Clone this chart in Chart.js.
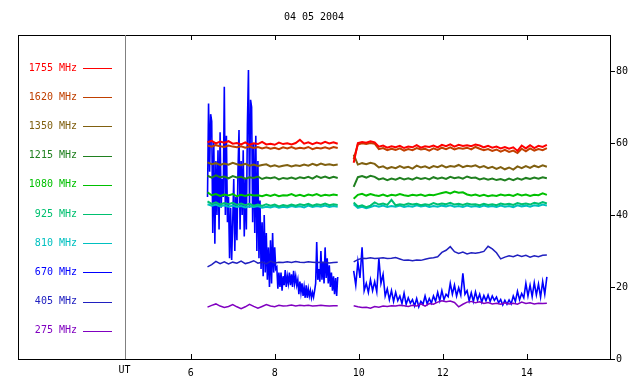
<!DOCTYPE html>
<html>
<head>
<meta charset="utf-8">
<title>04 05 2004</title>
<script src="https://cdn.jsdelivr.net/npm/chart.js@4.4.1/dist/chart.umd.min.js"></script>
<style>
  html, body { margin: 0; padding: 0; background: #fff; }
  canvas { display: block; }
</style>
</head>
<body>
<canvas id="radioChart" width="640" height="384"></canvas>
<script>
const chartTitle = '04 05 2004';
const freqs = ['1755', '1620', '1350', '1215', '1080', '925', '810', '670', '405', '275'];
const lineColors = ['#ff0000', '#c04000', '#806010', '#208020', '#00c000', '#00c070', '#00c0c0', '#0000ff', '#2020c0', '#8000c0'];
const xTicks = [6, 8, 10, 12, 14];
const yTicks = [0, 20, 40, 60, 80];

// UT hours of the samples: first run, then second run after the gap
function hours(start, count, step) {
  const out = [];
  for (let i = 0; i < count; i++) out.push(+(start + i * step).toFixed(3));
  return out;
}
const hoursA = hours(6.40, 32, 0.1);
const hoursB = hours(9.88, 47, 0.1);
const hoursFastA = hours(6.40, 125, 0.025);   // 670 MHz is sampled finer
const hoursFastB = hours(9.88, 93, 0.05);

const mhz1755a = [60.2, 60.6, 59.9, 60.4, 60.1, 60.5, 59.8, 60.0, 59.6, 60.2, 59.5, 59.9, 59.7, 60.3, 59.6, 59.8, 59.5, 60.1, 59.7, 59.9, 59.6, 60.0, 60.9, 59.8, 60.2, 59.7, 60.1, 59.8, 60.3, 59.9, 60.2, 59.8];
const mhz1755b = [54.5, 60.0, 60.3, 60.1, 60.5, 60.2, 59.0, 59.3, 58.7, 59.1, 58.8, 59.2, 58.6, 59.0, 58.8, 59.4, 58.7, 59.1, 58.9, 59.3, 58.8, 59.5, 59.1, 59.6, 59.0, 59.5, 59.2, 59.4, 59.1, 59.6, 59.3, 58.8, 59.2, 58.7, 59.0, 58.5, 58.9, 58.4, 58.8, 57.8, 59.3, 58.5, 59.4, 58.6, 59.2, 58.9, 59.5];

const mhz1620a = [59.3, 59.0, 59.4, 59.1, 58.9, 59.3, 59.0, 58.8, 59.1, 58.7, 59.0, 58.6, 58.9, 58.5, 58.8, 58.4, 58.7, 58.3, 58.8, 58.5, 58.9, 58.4, 58.7, 58.5, 58.9, 58.3, 58.7, 58.5, 58.8, 58.4, 58.9, 58.6];
const mhz1620b = [55.5, 59.6, 59.9, 59.7, 60.0, 59.8, 58.3, 58.6, 58.0, 58.4, 58.1, 58.5, 57.9, 58.3, 58.0, 58.6, 58.2, 58.4, 57.9, 58.5, 58.1, 58.7, 58.3, 58.8, 58.2, 58.6, 58.4, 58.7, 58.2, 58.9, 58.4, 58.0, 58.3, 57.8, 58.2, 57.6, 58.1, 57.5, 57.9, 57.2, 58.4, 57.7, 58.5, 57.9, 58.3, 58.0, 58.6];

const mhz1350a = [54.6, 54.1, 54.4, 53.9, 54.3, 54.0, 54.5, 54.1, 53.8, 54.2, 53.7, 54.0, 53.6, 53.9, 54.1, 53.5, 53.8, 53.4, 53.7, 53.9, 53.5, 53.8, 53.6, 54.0, 53.7, 54.2, 53.8, 54.3, 53.9, 54.1, 53.8, 54.0];
const mhz1350b = [56.8, 54.0, 54.4, 54.1, 54.5, 54.2, 53.2, 53.5, 52.9, 53.3, 53.0, 53.6, 53.1, 53.4, 52.9, 53.7, 53.2, 53.5, 53.0, 53.6, 53.3, 53.8, 53.2, 53.6, 53.4, 53.9, 53.3, 53.7, 53.5, 53.8, 53.2, 53.6, 53.0, 53.4, 52.8, 53.3, 52.7, 53.2, 52.6, 53.5, 53.0, 53.6, 53.1, 53.7, 53.3, 53.8, 53.4];

const mhz1215a = [50.9, 50.4, 51.0, 50.5, 50.7, 50.2, 50.8, 50.4, 50.6, 50.1, 50.5, 50.3, 50.7, 50.0, 50.4, 50.2, 50.5, 49.9, 50.3, 50.1, 50.4, 50.0, 50.5, 50.2, 50.6, 50.1, 50.8, 50.3, 50.7, 50.2, 50.6, 50.3];
const mhz1215b = [47.8, 50.5, 50.8, 50.4, 50.9, 50.6, 49.9, 50.2, 49.7, 50.1, 49.8, 50.3, 49.9, 50.2, 49.8, 50.4, 50.0, 50.3, 49.9, 50.5, 50.1, 50.4, 50.0, 50.6, 50.2, 50.5, 50.1, 50.7, 50.3, 50.4, 49.9, 50.2, 49.8, 50.1, 49.7, 50.0, 49.6, 50.1, 49.7, 50.2, 49.8, 50.3, 50.0, 50.4, 50.1, 50.5, 50.2];

const mhz1080a = [46.3, 45.5, 45.8, 45.3, 45.7, 45.4, 45.8, 45.2, 45.6, 45.3, 45.7, 45.4, 45.5, 45.2, 45.6, 45.3, 45.7, 45.2, 45.5, 45.4, 45.8, 45.3, 45.6, 45.2, 45.7, 45.4, 45.8, 45.3, 45.6, 45.4, 45.7, 45.5];
const mhz1080b = [44.5, 45.6, 45.9, 45.4, 45.8, 45.5, 45.3, 45.7, 45.2, 45.6, 45.4, 45.8, 45.5, 45.3, 45.6, 45.4, 45.7, 45.3, 45.6, 45.5, 45.8, 46.1, 46.4, 46.0, 46.5, 46.2, 46.3, 45.7, 45.4, 45.7, 45.3, 45.6, 45.2, 45.5, 45.3, 45.7, 45.4, 45.6, 45.3, 45.8, 45.4, 45.7, 45.3, 45.6, 45.5, 46.0, 45.6];

const mhz925a = [43.8, 43.1, 43.5, 42.9, 43.3, 43.0, 43.4, 42.8, 43.2, 42.7, 43.1, 42.6, 42.9, 42.5, 43.0, 42.6, 42.9, 42.4, 42.8, 42.5, 42.9, 42.6, 43.0, 42.7, 43.1, 42.6, 43.0, 42.8, 43.2, 42.7, 43.0, 42.8];
const mhz925b = [43.5, 42.4, 42.7, 42.2, 42.6, 43.5, 42.9, 43.2, 42.8, 44.2, 42.7, 43.0, 42.8, 43.2, 42.9, 43.1, 42.7, 43.0, 42.8, 43.3, 42.9, 43.2, 43.0, 43.4, 42.9, 43.1, 42.8, 43.2, 42.9, 43.0, 42.7, 43.1, 42.8, 43.0, 42.7, 43.2, 42.9, 43.1, 42.8, 43.3, 43.0, 43.2, 42.9, 43.4, 43.1, 43.6, 43.2];

const mhz810a = [43.0, 42.6, 42.9, 42.4, 42.7, 42.3, 42.6, 42.2, 42.5, 42.1, 42.4, 42.2, 42.5, 42.0, 42.3, 42.1, 42.4, 42.0, 42.3, 42.1, 42.5, 42.2, 42.4, 42.1, 42.6, 42.2, 42.5, 42.3, 42.6, 42.2, 42.5, 42.3];
const mhz810b = [43.0, 42.0, 42.3, 41.9, 42.2, 42.6, 42.3, 42.6, 42.2, 42.5, 42.3, 42.6, 42.2, 42.5, 42.3, 42.7, 42.4, 42.6, 42.2, 42.5, 42.3, 42.6, 42.4, 42.7, 42.3, 42.5, 42.2, 42.6, 42.3, 42.5, 42.2, 42.6, 42.3, 42.5, 42.2, 42.6, 42.3, 42.5, 42.2, 42.7, 42.4, 42.6, 42.3, 42.7, 42.5, 42.9, 42.6];

const mhz670a = [45, 71, 52, 68, 66, 35, 60, 32, 55, 40, 58, 36, 63, 42, 50, 45, 75.6, 40, 62, 38,
  45, 28, 42, 27.5, 38, 50, 30, 45, 33, 52, 63.6, 36, 55, 40, 58, 34, 50, 36, 65, 80.3,
  42, 72, 70, 38, 60, 35, 62, 30, 55, 28, 44, 25, 38, 23, 40, 24, 35, 22, 31, 20,
  33, 21, 35, 24, 31, 25, 25.5, 19.5, 24, 20, 24, 19, 23, 20.5, 24.7, 20, 23, 21, 24, 20.5,
  23.5, 20, 24.5, 21, 23, 20.5, 22, 18, 21.5, 18.5, 21, 17.5, 20, 17, 20.5, 17, 19.5, 17.5, 19, 17,
  18.5, 17.2, 19, 21, 32.5, 22, 25, 21.5, 30, 22, 27, 21, 31, 22.5, 28, 21, 26, 20, 24, 19,
  23, 18, 22.5, 17.5, 22.8];
const mhz670b = [24.5, 20.5, 27, 22.5, 31, 19, 21, 18.5, 22, 19, 21.5, 18.7, 28, 21, 23.5, 17.5, 19.5, 16.5, 19, 16, 18.5, 16.2, 17.5, 15.4, 18.3, 15.2, 17, 15.5, 16.5, 14.7,
  16.8, 14.5, 16, 15.2, 17.5, 15.3, 16.8, 15.5, 17.5, 16, 18.5, 16.2, 19, 16.5, 18, 17.3, 21, 18, 20.5, 17.5, 19.8, 17.8, 23.8, 18, 19, 16.2, 18.4, 16, 18.6, 16.3,
  18, 15.8, 17.6, 16.2, 17.8, 16, 17.5, 16.3, 17.2, 15.6, 16.5, 15, 16.3, 15.2, 16.4, 15.3, 17.5, 16, 18.8, 16.5, 18.2, 17, 21, 17.5, 20.5, 17.3, 21.2, 17.8, 20.8, 17.2,
  21.5, 18, 22.8];

const mhz405a = [25.6, 26.2, 27.1, 26.5, 27.0, 26.4, 26.9, 26.6, 27.2, 26.5, 26.8, 27.3, 26.6, 26.9, 26.4, 27.2, 26.7, 26.9, 26.8, 27.0, 26.8, 27.1, 26.9, 26.8, 27.0, 26.9, 26.8, 26.9, 26.8, 26.7, 26.8, 26.9];
const mhz405b = [27.0, 27.6, 28.0, 27.9, 28.1, 27.9, 28.0, 28.1, 27.9, 28.0, 28.2, 27.8, 27.4, 27.5, 27.3, 27.5, 27.4, 27.7, 28.0, 28.1, 28.4, 29.6, 30.2, 31.2, 29.8, 29.3, 29.7, 29.2, 29.5, 29.4, 29.6, 29.9, 31.3, 30.6, 29.5, 27.8, 28.3, 28.7, 28.4, 28.9, 28.5, 28.8, 28.3, 28.7, 28.4, 28.8, 28.9];

const mhz275a = [14.4, 14.9, 15.3, 14.7, 14.3, 14.6, 15.1, 14.5, 14.0, 14.5, 15.2, 14.6, 14.1, 14.6, 15.1, 14.7, 14.5, 14.9, 14.7, 14.8, 15.0, 14.7, 14.9, 14.8, 14.9, 14.7, 14.8, 14.9, 14.8, 14.7, 14.8, 14.8];
const mhz275b = [14.8, 14.5, 14.3, 14.4, 14.1, 14.6, 14.4, 14.7, 14.6, 14.8, 14.7, 14.9, 14.8, 14.6, 14.9, 14.7, 15.3, 14.7, 15.4, 15.2, 15.8, 16.2, 15.9, 16.1, 15.7, 14.5, 15.2, 15.8, 16.0, 15.6, 15.9, 15.4, 15.7, 15.3, 15.5, 15.2, 15.6, 15.3, 15.5, 15.2, 15.8, 15.4, 15.6, 15.3, 15.5, 15.4, 15.5];

function joinRuns(ta, va, tb, vb) {
  const pts = ta.map((t, i) => ({ x: t, y: va[i] }));
  pts.push({ x: (ta[ta.length - 1] + tb[0]) / 2, y: null }); // data gap
  tb.forEach((t, i) => pts.push({ x: t, y: vb[i] }));
  return pts;
}

const runs = [
  joinRuns(hoursA, mhz1755a, hoursB, mhz1755b),
  joinRuns(hoursA, mhz1620a, hoursB, mhz1620b),
  joinRuns(hoursA, mhz1350a, hoursB, mhz1350b),
  joinRuns(hoursA, mhz1215a, hoursB, mhz1215b),
  joinRuns(hoursA, mhz1080a, hoursB, mhz1080b),
  joinRuns(hoursA, mhz925a, hoursB, mhz925b),
  joinRuns(hoursA, mhz810a, hoursB, mhz810b),
  joinRuns(hoursFastA, mhz670a, hoursFastB, mhz670b),
  joinRuns(hoursA, mhz405a, hoursB, mhz405b),
  joinRuns(hoursA, mhz275a, hoursB, mhz275b)
];

const FONT = '"DejaVu Sans Mono", monospace';

// box, inner ticks, divider, legend, title
const decor = {
  id: 'decor',
  afterDraw(chart) {
    const { ctx, chartArea: a, scales: { x } } = chart;
    ctx.save();
    ctx.strokeStyle = '#000';
    ctx.lineWidth = 1;
    ctx.strokeRect(a.left + 0.5, a.top + 0.5, a.right - a.left, a.bottom - a.top);
    ctx.beginPath();
    xTicks.forEach(v => {
      const px = Math.round(x.getPixelForValue(v)) + 0.5;
      ctx.moveTo(px, a.top); ctx.lineTo(px, a.top + 5);
      ctx.moveTo(px, a.bottom); ctx.lineTo(px, a.bottom - 5);
    });
    ctx.stroke();

    // divider between legend and plot
    const ut = Math.round(x.getPixelForValue(4.43)) + 0.5;
    ctx.strokeStyle = '#808080';
    ctx.beginPath();
    ctx.moveTo(ut, a.top); ctx.lineTo(ut, a.bottom);
    ctx.stroke();

    ctx.font = '10px ' + FONT;
    ctx.fillStyle = '#000';
    ctx.textAlign = 'center';
    ctx.textBaseline = 'middle';
    ctx.fillText('UT', ut - 1, 370);
    ctx.fillText(chartTitle, (a.left + a.right) / 2, 17);

    // legend
    freqs.forEach((f, i) => {
      const yy = 68 + i * 29.2;
      ctx.fillStyle = lineColors[i];
      ctx.textAlign = 'right';
      ctx.fillText(f + ' MHz', 77, yy);
      ctx.strokeStyle = lineColors[i];
      ctx.beginPath();
      ctx.moveTo(83, Math.round(yy) + 0.5);
      ctx.lineTo(112, Math.round(yy) + 0.5);
      ctx.stroke();
    });
    ctx.restore();
  }
};

new Chart(document.getElementById('radioChart'), {
  type: 'line',
  data: {
    datasets: runs.map((pts, i) => ({
      label: freqs[i] + ' MHz',
      data: pts,
      borderColor: lineColors[i],
      borderWidth: i === 7 ? 1.6 : (i >= 8 ? 1.5 : 2),
      pointRadius: 0,
      tension: 0,
      spanGaps: false,
      order: i === 7 ? 1 : 0
    }))
  },
  options: {
    responsive: false,
    animation: false,
    layout: { padding: { left: 18, top: 35, right: 0, bottom: 0 } },
    plugins: { legend: { display: false }, tooltip: { enabled: false } },
    scales: {
      x: {
        type: 'linear',
        min: 1.888,
        max: 15.983,
        afterBuildTicks: s => { s.ticks = xTicks.map(v => ({ value: v })); },
        afterFit: s => { s.height = 25; },
        grid: { display: false, drawTicks: false },
        border: { display: false },
        ticks: { color: '#000', font: { family: FONT, size: 10 }, padding: 8, maxRotation: 0 }
      },
      y: {
        position: 'right',
        min: 0,
        max: 90,
        afterBuildTicks: s => { s.ticks = yTicks.map(v => ({ value: v })); },
        afterFit: s => { s.width = 30; },
        grid: { drawOnChartArea: false, color: '#000', tickLength: 5 },
        border: { display: false },
        ticks: { color: '#000', font: { family: FONT, size: 10 }, padding: 1 }
      }
    }
  },
  plugins: [decor]
});
</script>
</body>
</html>
